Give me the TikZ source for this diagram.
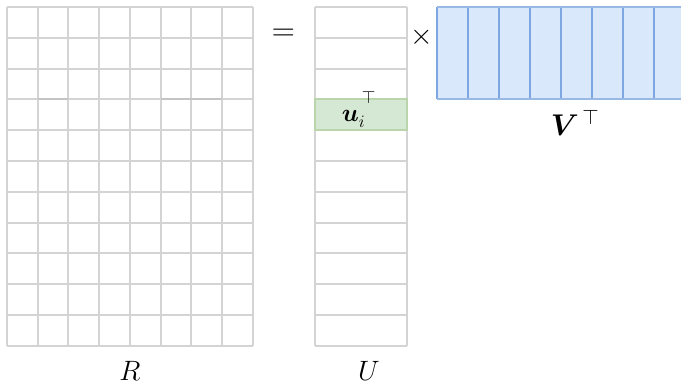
\RequirePackage{fix-cm}
\documentclass[tikz,border=0pt]{standalone}
\usepackage{amsmath,bm}
\begin{document}
\begin{tikzpicture}[x=1pt,y=-1pt,
  gridline/.style={draw=black!17,line width=2pt},
  darkseg/.style={draw=black!23,line width=2pt},
  lbl/.style={inner sep=0pt,anchor=base,font=\fontsize{28}{32}\selectfont},
  op/.style={inner sep=0pt,font=\fontsize{29}{33}\selectfont}]
\definecolor{gfill}{HTML}{D5E8D4}
\definecolor{gline}{HTML}{82B366}
\definecolor{bfill}{HTML}{DAE8FC}
\definecolor{bline}{HTML}{7EA6E0}
\useasboundingbox (0,0) rectangle (681,384);
% R grid 8 x 11
\foreach \x in {7,38,68,99,130,161,191,222,253} \draw[gridline] (\x,7) -- (\x,346);
\foreach \y in {7,38,69,99,130,161,192,223,253,284,315,346} \draw[gridline] (7,\y) -- (253,\y);
\draw[darkseg] (38,99) -- (68,99);
\draw[darkseg] (161,99) -- (222,99);
% U
\fill[gfill] (315,99) rectangle (407,130);
\foreach \y in {7,38,69,99,130,161,192,223,253,284,315,346} \draw[gridline] (315,\y) -- (407,\y);
\draw[gridline] (315,7) -- (315,346);
\draw[gridline] (407,7) -- (407,346);
\draw[draw=gline!55,line width=2pt] (315,99) rectangle (407,130);
% V^T
\fill[bfill] (437,7) rectangle (685,99);
\foreach \x in {437,468,499,530,561,592,623,654} \draw[draw=bline,line width=1.6pt] (\x,7) -- (\x,99);
\draw[draw=bline!80,line width=1.6pt] (437,7) -- (685,7);
\draw[draw=bline!80,line width=1.6pt] (437,99) -- (685,99);
% labels
\node[lbl] (lR) at (130,380) {$R$};
\node[lbl] (lU) at (369,380) {$U$};
\node[inner sep=0pt,anchor=base,font=\fontsize{30}{34}\selectfont] (lV) at (575,135) {$\bm{V}^{\,\top}$};
\node[inner sep=0pt,anchor=base,font=\fontsize{25}{29}\selectfont] (lu) at (359,121) {$\bm{u}_i^{\hspace{3pt}\raisebox{8pt}{$\scriptstyle\top$}}$};
\node[op,font=\fontsize{32}{36}\selectfont] (eq) at (283.5,35) {$=$};
\node[op] (times) at (422,37) {$\times$};
\end{tikzpicture}
\end{document}
